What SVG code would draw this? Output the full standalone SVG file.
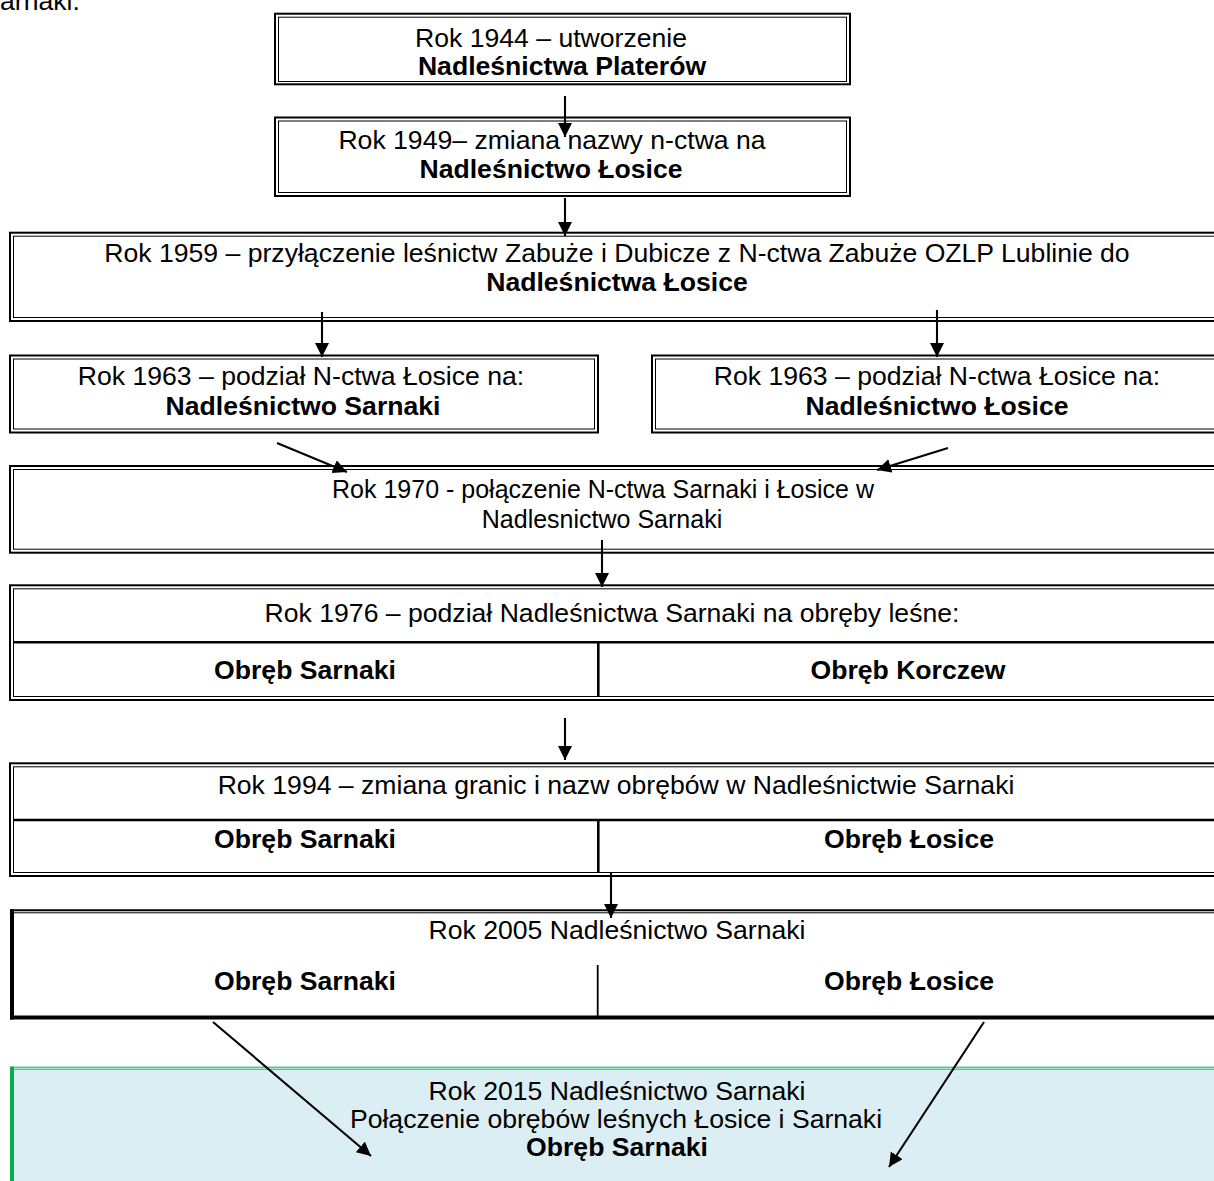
<svg xmlns="http://www.w3.org/2000/svg" width="1214" height="1181" viewBox="0 0 1214 1181">
<defs>
<style>
.o{fill:none;stroke:#000;stroke-width:2}
.i{fill:none;stroke:#000;stroke-width:1}
.t{font-family:"Liberation Sans",Arial,sans-serif;font-size:26.6px;fill:#000;text-anchor:middle}
.s{font-size:25px}
.b{font-weight:bold}
.c{stroke:#000;stroke-width:2.1;fill:none;marker-end:url(#ah)}
.d{stroke:#000;stroke-width:2.6}
</style>
<marker id="ah" markerUnits="userSpaceOnUse" markerWidth="15" markerHeight="15" refX="14" refY="7" orient="auto">
<path d="M0,0 L14,7 L0,14 Z" fill="#000"/>
</marker>
</defs>
<rect width="1214" height="1181" fill="#fff"/>
<text x="0" y="10" style="font-family:'Liberation Sans',Arial,sans-serif;font-size:26.6px">arnaki.</text>

<g id="n1944">
<rect class="o" x="275" y="13.7" width="575" height="70.6"/>
<rect class="i" x="278.5" y="17.2" width="568" height="64.3"/>
<text class="t" x="551" y="47">Rok 1944 – utworzenie</text>
<text class="t b" x="562" y="75">Nadleśnictwa Platerów</text>
</g>
<g id="n1949">
<rect class="o" x="275" y="117.5" width="575" height="78.5"/>
<rect class="i" x="278.5" y="121" width="568" height="71.5"/>
<text class="t" x="552" y="149">Rok 1949– zmiana nazwy n-ctwa na</text>
<text class="t b" x="551" y="178">Nadleśnictwo Łosice</text>
</g>
<g id="n1959">
<rect class="o" x="10" y="232.7" width="1220" height="88.3"/>
<rect class="i" x="13.5" y="236.2" width="1213" height="81.3"/>
<text class="t" x="617" y="262">Rok 1959 – przyłączenie leśnictw Zabuże i Dubicze z N-ctwa Zabuże OZLP Lublinie do</text>
<text class="t b" x="617" y="291">Nadleśnictwa Łosice</text>
</g>
<g id="n1963a">
<rect class="o" x="10" y="355.5" width="588" height="77"/>
<rect class="i" x="13.5" y="359" width="581" height="70"/>
<text class="t" x="301" y="385">Rok 1963 – podział N-ctwa Łosice na:</text>
<text class="t b" x="303" y="415">Nadleśnictwo Sarnaki</text>
</g>
<g id="n1963b">
<rect class="o" x="652" y="355.5" width="578" height="77"/>
<rect class="i" x="655.5" y="359" width="571" height="70"/>
<text class="t" x="937" y="385">Rok 1963 – podział N-ctwa Łosice na:</text>
<text class="t b" x="937" y="415">Nadleśnictwo Łosice</text>
</g>
<g id="n1970">
<rect class="o" x="10" y="466" width="1220" height="86.7"/>
<rect class="i" x="13.5" y="469.5" width="1213" height="79.7"/>
<text class="t s" x="603" y="498">Rok 1970 - połączenie N-ctwa Sarnaki i Łosice w</text>
<text class="t s" x="602" y="528">Nadlesnictwo Sarnaki</text>
</g>
<g id="n1976">
<rect class="o" x="10" y="585.3" width="1220" height="114.7"/>
<rect class="i" x="13.5" y="588.8" width="1213" height="107.7"/>
<line class="d" x1="13.5" y1="642.3" x2="1230" y2="642.3"/>
<line class="d" x1="598.3" y1="642.3" x2="598.3" y2="696.5"/>
<text class="t" x="612" y="622">Rok 1976 – podział Nadleśnictwa Sarnaki na obręby leśne:</text>
<text class="t b" x="305" y="679">Obręb Sarnaki</text>
<text class="t b" x="908" y="679">Obręb Korczew</text>
</g>
<g id="n1994">
<rect class="o" x="10" y="763.3" width="1220" height="112.7"/>
<rect class="i" x="13.5" y="766.8" width="1213" height="105.7"/>
<line class="d" x1="13.5" y1="820" x2="1230" y2="820"/>
<line class="d" x1="598.3" y1="820" x2="598.3" y2="872.5"/>
<text class="t" x="616" y="794">Rok 1994 – zmiana granic i nazw obrębów w Nadleśnictwie Sarnaki</text>
<text class="t b" x="305" y="848">Obręb Sarnaki</text>
<text class="t b" x="909" y="848">Obręb Łosice</text>
</g>
<g id="n2005">
<line x1="10" y1="910.2" x2="1230" y2="910.2" stroke="#000" stroke-width="2"/>
<line x1="14" y1="912.8" x2="1230" y2="912.8" stroke="#000" stroke-width="1"/>
<line x1="12" y1="909.2" x2="12" y2="1019.5" stroke="#000" stroke-width="4"/>
<line x1="10" y1="1017.5" x2="1230" y2="1017.5" stroke="#000" stroke-width="4"/>
<line x1="597.7" y1="965" x2="597.7" y2="1016" stroke="#000" stroke-width="1.8"/>
<text class="t" x="617" y="939">Rok 2005 Nadleśnictwo Sarnaki</text>
<text class="t b" x="305" y="990">Obręb Sarnaki</text>
<text class="t b" x="909" y="990">Obręb Łosice</text>
</g>
<g id="n2015">
<rect x="14" y="1069.7" width="1216" height="120" fill="#DAEEF3"/>
<line x1="10" y1="1067.2" x2="1230" y2="1067.2" stroke="#00B050" stroke-width="1"/>
<line x1="14" y1="1069.2" x2="1230" y2="1069.2" stroke="#00B050" stroke-width="1"/>
<line x1="12" y1="1066.7" x2="12" y2="1190" stroke="#00B050" stroke-width="4"/>
<text class="t" x="617" y="1100">Rok 2015 Nadleśnictwo Sarnaki</text>
<text class="t" x="616" y="1128">Połączenie obrębów leśnych Łosice i Sarnaki</text>
<text class="t b" x="617" y="1156">Obręb Sarnaki</text>
</g>
<g id="connectors">
<line class="c" x1="565" y1="96" x2="565" y2="137"/>
<line class="c" x1="565" y1="198" x2="565" y2="236"/>
<line class="c" x1="322" y1="312" x2="322" y2="357"/>
<line class="c" x1="937" y1="310" x2="937" y2="357"/>
<line class="c" x1="277" y1="443" x2="347" y2="472"/>
<line class="c" x1="948" y1="448" x2="877" y2="470"/>
<line class="c" x1="602" y1="540" x2="602" y2="587"/>
<line class="c" x1="565" y1="718" x2="565" y2="760"/>
<line class="c" x1="611" y1="872" x2="611" y2="918"/>
<line class="c" x1="213" y1="1022" x2="371" y2="1156"/>
<line class="c" x1="984" y1="1022" x2="889" y2="1167"/>
</g>
</svg>
